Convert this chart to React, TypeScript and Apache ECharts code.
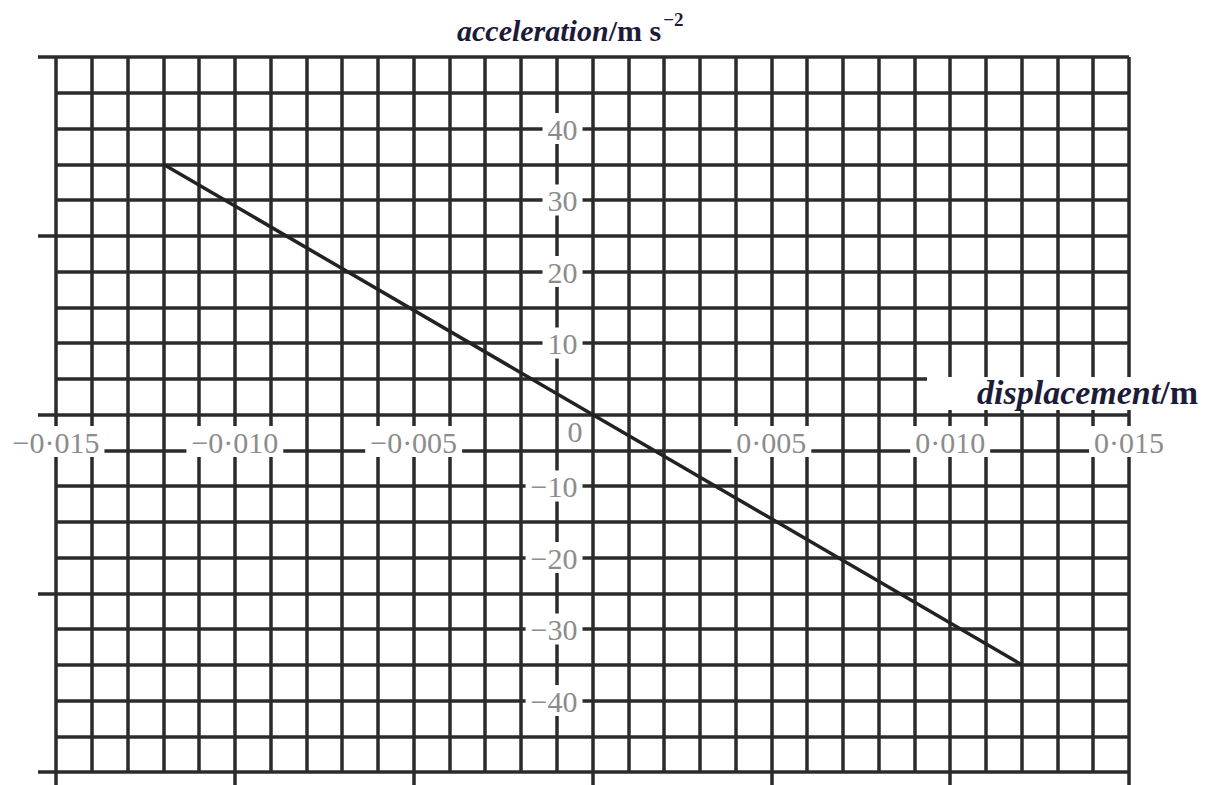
import { useEffect, useRef } from 'react';
import * as echarts from 'echarts';

// Straight-line relation between displacement and acceleration
const displacement = [-0.012, 0.012];
const acceleration = [35, -35];

// Axis ranges and the printed tick labels
const xRange = [-0.015, 0.015];
const yRange = [-50, 50];
const xTickValues = [-0.015, -0.01, -0.005, 0, 0.005, 0.01, 0.015];
const xTickLabels = ['−0·015', '−0·010', '−0·005', '', '0·005', '0·010', '0·015'];
const yTickValues = [-50, -40, -30, -20, -10, 0, 10, 20, 30, 40, 50];
const yTickLabels = ['', '−40', '−30', '−20', '−10', '0', '10', '20', '30', '40', ''];

const SERIF = '"Liberation Serif", "DejaVu Serif", serif';
const GRID_COLOR = '#2b2b2b';
const LABEL_COLOR = '#8c8c8c';
const TITLE_COLOR = '#1c1c38';

const WIDTH = 1206;
const HEIGHT = 785;
const GRID = { left: 56, right: 77, top: 57, bottom: 13 };
const PLOT_W = WIDTH - GRID.left - GRID.right;
const PLOT_H = HEIGHT - GRID.top - GRID.bottom;
// distance from the frame edge to the zero lines, so the value axes sit on them
const X_AXIS_SHIFT = -PLOT_H * (0 - yRange[0]) / (yRange[1] - yRange[0]);
const Y_AXIS_SHIFT = -PLOT_W * (0 - xRange[0]) / (xRange[1] - xRange[0]);

const lookup = (values: number[], labels: string[], v: number) => {
  const i = values.findIndex((t) => Math.abs(t - v) < 1e-9);
  return i < 0 ? '' : labels[i];
};

const boxLabel = {
  fontFamily: SERIF,
  fontSize: 30,
  lineHeight: 30,
  color: LABEL_COLOR,
  backgroundColor: '#fff',
  padding: [1, 5, 0, 5],
};

export default function App() {
  const ref = useRef<HTMLDivElement>(null);

  useEffect(() => {
    if (!ref.current) return;
    const chart = echarts.init(ref.current, undefined, { renderer: 'svg' });
    const gridLine = { show: true, lineStyle: { color: GRID_COLOR, width: 3.5 } };
    const hidden = { show: false };

    chart.setOption({
      animation: false,
      backgroundColor: '#fff',
      grid: { ...GRID, containLabel: false, outerBoundsMode: 'none' },
      xAxis: [
        {
          // fine grid, one line per 0.001 m
          type: 'value', min: xRange[0], max: xRange[1], interval: 0.001,
          axisLine: { show: false, onZero: false }, axisTick: hidden, axisLabel: hidden,
          splitLine: gridLine,
        },
        {
          // printed values along the zero line
          type: 'value', min: xRange[0], max: xRange[1], interval: 0.005,
          position: 'bottom', offset: X_AXIS_SHIFT,
          axisLine: { show: false, onZero: false }, axisTick: hidden,
          splitLine: hidden,
          axisLabel: {
            show: true, margin: 12, showMinLabel: true, showMaxLabel: true, hideOverlap: false,
            formatter: (v: number) => {
              const s = lookup(xTickValues, xTickLabels, v);
              return s ? `{b|${s}}` : '';
            },
            rich: { b: boxLabel },
          },
        },
        {
          // outer ticks below the frame
          type: 'value', min: xRange[0], max: xRange[1], interval: 0.005, position: 'bottom',
          axisLine: { show: false, onZero: false }, axisLabel: hidden, splitLine: hidden,
          axisTick: { show: true, inside: false, length: 13, lineStyle: { color: GRID_COLOR, width: 3.5 } },
        },
      ],
      yAxis: [
        {
          // fine grid, one line per 5 m s⁻²
          type: 'value', min: yRange[0], max: yRange[1], interval: 5,
          axisLine: { show: false, onZero: false }, axisTick: hidden, axisLabel: hidden,
          splitLine: gridLine,
        },
        {
          type: 'value', min: yRange[0], max: yRange[1], interval: 10,
          position: 'left', offset: Y_AXIS_SHIFT,
          axisLine: { show: false, onZero: false }, axisTick: hidden,
          splitLine: hidden,
          axisLabel: {
            show: true, margin: 10, showMinLabel: true, showMaxLabel: true, hideOverlap: false,
            formatter: (v: number) => {
              const s = lookup(yTickValues, yTickLabels, v);
              if (!s) return '';
              return s === '0' ? '{z|0}' : `{b|${s}}`;
            },
            rich: {
              b: boxLabel,
              z: { fontFamily: SERIF, fontSize: 30, lineHeight: 30, color: LABEL_COLOR, padding: [34, 0, 0, 0] },
            },
          },
        },
        {
          // outer ticks left of the frame
          type: 'value', min: yRange[0], max: yRange[1], interval: 25, position: 'left',
          axisLine: { show: false, onZero: false }, axisLabel: hidden, splitLine: hidden,
          axisTick: { show: true, inside: false, length: 18, lineStyle: { color: GRID_COLOR, width: 3.5 } },
        },
      ],
      series: [
        {
          type: 'line',
          xAxisIndex: 0,
          yAxisIndex: 0,
          data: displacement.map((d, i) => [d, acceleration[i]]),
          showSymbol: false,
          symbol: 'none',
          lineStyle: { color: '#222', width: 3.5 },
          z: 5,
        },
      ],
      graphic: [
        {
          type: 'rect', z: 100,
          shape: { x: 927, y: 377, width: 279, height: 33 },
          style: { fill: '#fff' },
        },
        {
          type: 'text', z: 101, x: 1198, y: 392,
          style: {
            text: '{i|displacement}{n|/m}',
            align: 'right', verticalAlign: 'middle',
            rich: {
              i: { font: `italic bold 34px ${SERIF}`, fill: TITLE_COLOR },
              n: { font: `bold 34px ${SERIF}`, fill: TITLE_COLOR },
            },
          },
        },
        {
          type: 'text', z: 101, x: 457, y: 10,
          style: {
            text: '{i|acceleration}{n|/m s}{s|−2}',
            align: 'left', verticalAlign: 'top',
            rich: {
              i: { font: `italic bold 30px ${SERIF}`, fill: TITLE_COLOR, lineHeight: 40 },
              n: { font: `bold 30px ${SERIF}`, fill: TITLE_COLOR, lineHeight: 40 },
              s: { font: `bold 19px ${SERIF}`, fill: TITLE_COLOR, lineHeight: 19, verticalAlign: 'top', padding: [0, 0, 0, 2] },
            },
          },
        },
      ],
    });

    return () => chart.dispose();
  }, []);

  return (
    <div
      ref={ref}
      style={{ position: 'fixed', left: 0, top: 0, width: WIDTH, height: HEIGHT, background: '#fff' }}
    />
  );
}
